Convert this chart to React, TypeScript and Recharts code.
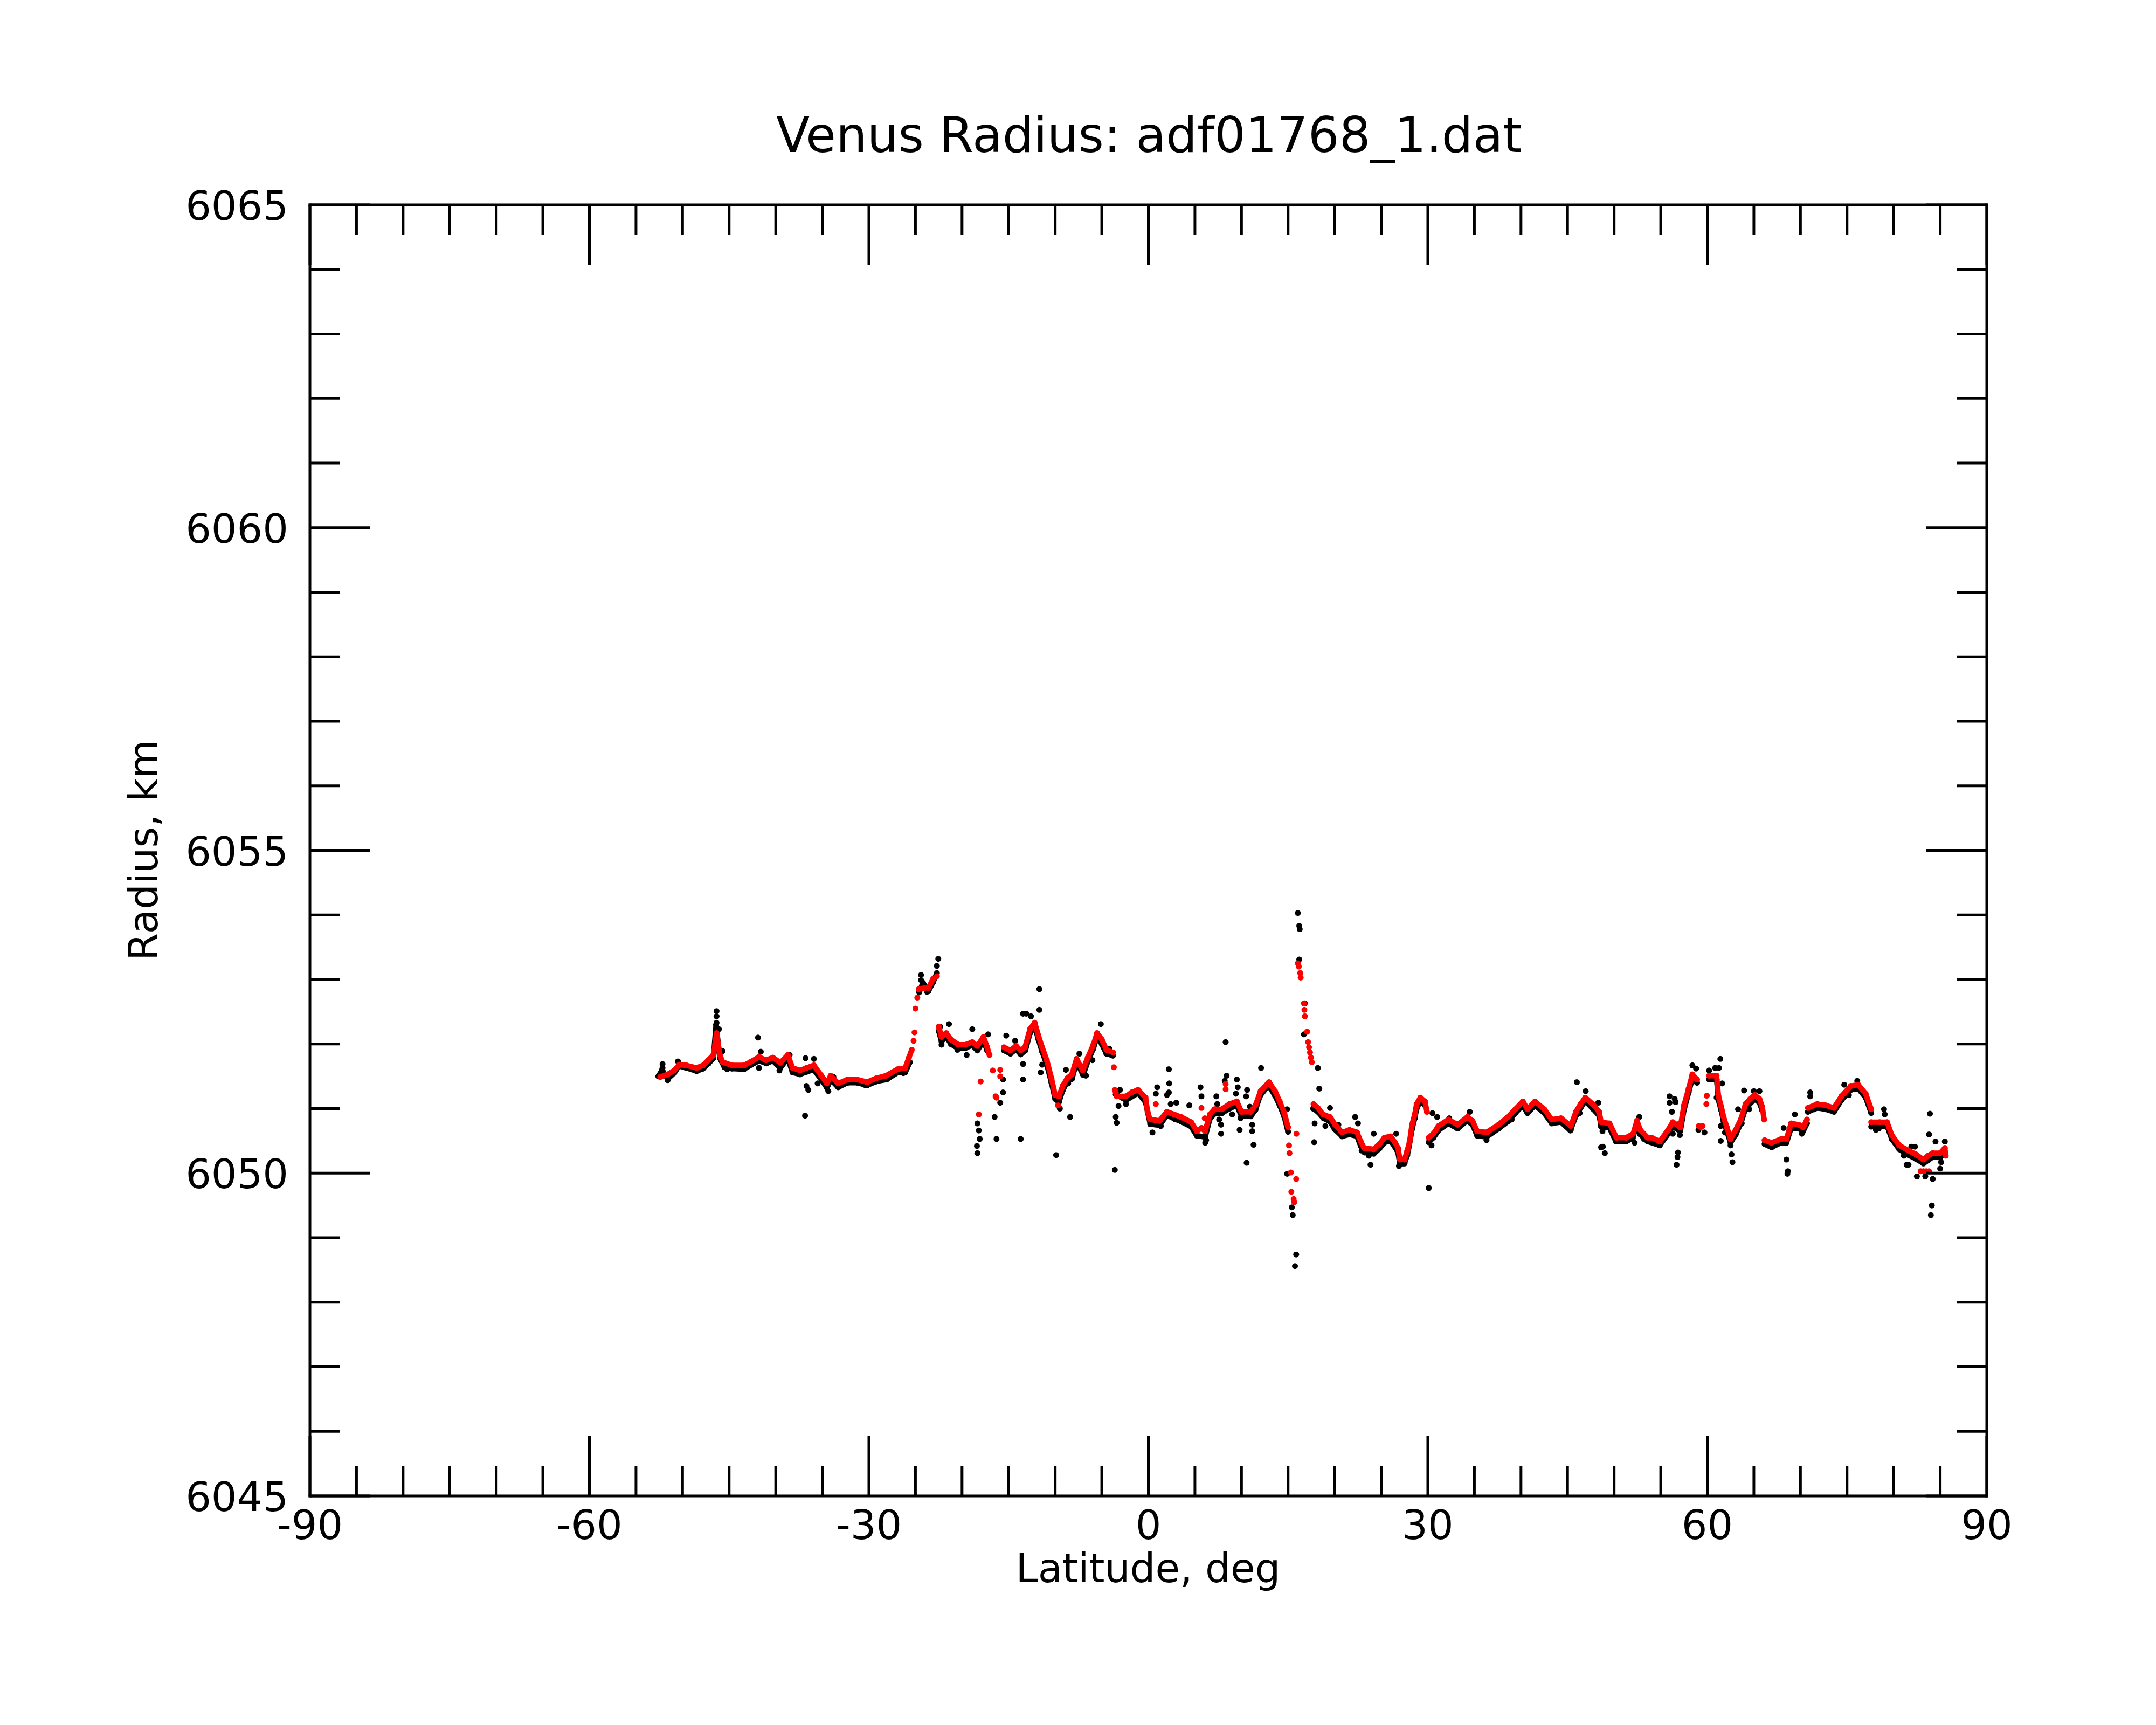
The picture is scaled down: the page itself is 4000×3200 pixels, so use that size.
import { ScatterChart, Scatter, XAxis, YAxis } from 'recharts';

type Pt = [number, number];

// axis ticks
const latTicks = [-90, -85, -80, -75, -70, -65, -60, -55, -50, -45, -40, -35, -30, -25, -20, -15, -10, -5, 0, 5, 10, 15, 20, 25, 30, 35, 40, 45, 50, 55, 60, 65, 70, 75, 80, 85, 90];
const latLabels = [-90, -60, -30, 0, 30, 60, 90];
const radiusTicks = [6045, 6046, 6047, 6048, 6049, 6050, 6051, 6052, 6053, 6054, 6055, 6056, 6057, 6058, 6059, 6060, 6061, 6062, 6063, 6064, 6065];
const radiusLabels = [6045, 6050, 6055, 6060, 6065];

// smoothed radius (red), in runs of adjacent samples
const red1: Pt[] = [[-52.4, 6051.49], [-51.6, 6051.53], [-50.9, 6051.59], [-50.35, 6051.68], [-49.6, 6051.67], [-48.5, 6051.63], [-47.8, 6051.67], [-47.25, 6051.75], [-46.7, 6051.83], [-46.5, 6052.0], [-46.35, 6052.17], [-46.0, 6051.83], [-45.7, 6051.72], [-44.7, 6051.67], [-43.4, 6051.67], [-42.6, 6051.73], [-41.8, 6051.8], [-41.05, 6051.75], [-40.3, 6051.79], [-39.5, 6051.71], [-38.7, 6051.83], [-38.2, 6051.63], [-37.4, 6051.59], [-36.7, 6051.63], [-35.9, 6051.67], [-35.1, 6051.51], [-34.5, 6051.39], [-34.1, 6051.51], [-33.3, 6051.39], [-32.3, 6051.45], [-31.25, 6051.45], [-30.2, 6051.41], [-29.2, 6051.47], [-28.15, 6051.51], [-26.9, 6051.61], [-26.1, 6051.63], [-25.7, 6051.79], [-25.4, 6051.91]];
const red2: Pt[] = [[-24.65, 6052.85], [-24.0, 6052.87], [-23.6, 6052.87], [-23.1, 6053.01], [-22.7, 6053.05]];
const red3: Pt[] = [[-22.5, 6052.27], [-22.2, 6052.11], [-21.7, 6052.17], [-21.2, 6052.07], [-20.4, 6051.99], [-19.6, 6051.99], [-18.9, 6052.03], [-18.35, 6051.97], [-17.7, 6052.11], [-17.3, 6051.95], [-17.05, 6051.83]];
const red4: Pt[] = [[-15.5, 6051.95], [-14.8, 6051.9], [-14.2, 6051.97], [-13.7, 6051.9], [-13.24, 6051.95], [-12.7, 6052.23], [-12.2, 6052.33], [-11.8, 6052.13], [-11.4, 6051.95], [-10.9, 6051.75], [-10.4, 6051.47], [-10.0, 6051.21], [-9.6, 6051.19], [-9.2, 6051.35], [-8.7, 6051.47], [-8.2, 6051.53], [-7.7, 6051.77], [-7.05, 6051.59], [-6.5, 6051.79], [-5.9, 6051.99], [-5.5, 6052.17], [-5.0, 6052.07], [-4.5, 6051.91], [-3.8, 6051.87]];
const red5: Pt[] = [[-3.6, 6051.29], [-3.4, 6051.19], [-2.4, 6051.19], [-1.8, 6051.25], [-1.1, 6051.29], [-0.3, 6051.17], [-0.08, 6050.95], [0.18, 6050.83], [0.7, 6050.82], [1.2, 6050.81], [2.0, 6050.95], [2.76, 6050.91], [3.5, 6050.87], [4.6, 6050.79], [5.2, 6050.65], [5.7, 6050.7], [6.1, 6050.65], [6.6, 6050.91], [7.1, 6050.99], [7.9, 6050.99], [8.7, 6051.07], [9.5, 6051.11], [10.0, 6050.95], [11.0, 6050.95], [11.5, 6051.05], [12.05, 6051.27], [12.95, 6051.41], [13.6, 6051.27], [14.1, 6051.11], [14.6, 6050.93], [15.0, 6050.71]];
const red6: Pt[] = [[17.73, 6051.07], [18.2, 6051.01], [18.76, 6050.91], [19.5, 6050.87], [20.05, 6050.75], [20.8, 6050.63], [21.6, 6050.67], [22.4, 6050.63], [22.8, 6050.49], [23.15, 6050.39], [24.2, 6050.37], [24.8, 6050.45], [25.35, 6050.55], [26.0, 6050.57], [26.5, 6050.47], [26.8, 6050.39], [27.0, 6050.21], [27.5, 6050.21], [27.8, 6050.35], [28.05, 6050.49], [28.3, 6050.75], [28.6, 6050.91], [28.8, 6051.07], [29.2, 6051.17], [29.7, 6051.11], [29.9, 6050.95]];
const red7: Pt[] = [[30.1, 6050.55], [30.6, 6050.61], [31.15, 6050.73], [32.2, 6050.83], [33.2, 6050.75], [34.25, 6050.87], [34.8, 6050.81], [35.3, 6050.65], [36.3, 6050.63], [37.6, 6050.75], [38.6, 6050.87], [39.4, 6050.99], [40.2, 6051.11], [40.7, 6050.99], [41.5, 6051.11], [42.5, 6050.99], [43.3, 6050.83], [44.3, 6050.85], [45.35, 6050.73], [45.9, 6050.95], [46.4, 6051.07], [46.9, 6051.17], [47.7, 6051.07], [48.4, 6050.95], [48.6, 6050.79], [49.5, 6050.77], [50.25, 6050.55], [51.3, 6050.55], [52.05, 6050.61], [52.45, 6050.81], [52.8, 6050.67], [53.6, 6050.55], [54.0, 6050.55], [54.9, 6050.49], [55.8, 6050.67], [56.3, 6050.79], [57.1, 6050.71], [57.5, 6051.05], [58.0, 6051.31], [58.4, 6051.53], [58.9, 6051.45]];
const red8: Pt[] = [[60.2, 6051.51], [61.0, 6051.51], [61.2, 6051.19], [61.5, 6051.03], [61.75, 6050.87], [62.1, 6050.71], [62.5, 6050.53], [63.05, 6050.67], [63.6, 6050.83], [64.1, 6051.07], [64.6, 6051.15], [65.1, 6051.21], [65.6, 6051.15], [65.9, 6051.03], [66.1, 6050.83]];
const red9: Pt[] = [[66.15, 6050.51], [66.9, 6050.47], [67.95, 6050.53], [68.5, 6050.53], [69.0, 6050.77], [69.8, 6050.75], [70.3, 6050.71], [70.7, 6050.83]];
const red10: Pt[] = [[70.8, 6051.01], [71.8, 6051.07], [72.7, 6051.05], [73.6, 6051.01], [74.4, 6051.19], [75.4, 6051.35], [76.2, 6051.37], [77.0, 6051.23], [77.6, 6050.99]];
const red11: Pt[] = [[77.6, 6050.79], [78.5, 6050.79], [79.3, 6050.79], [79.8, 6050.59], [80.6, 6050.43], [81.6, 6050.35], [82.4, 6050.29], [83.2, 6050.21], [83.7, 6050.27], [84.2, 6050.31], [85.0, 6050.31], [85.5, 6050.39], [85.6, 6050.27]];
const redLoose: Pt[] = [[-25.2, 6052.05], [-25.1, 6052.18], [-25.0, 6052.55], [-24.8, 6052.72], [-18.2, 6050.91], [-18.0, 6051.42], [-16.7, 6051.59], [-16.4, 6051.19], [-16.3, 6051.17], [-15.9, 6051.6], [-15.9, 6051.5], [-9.7, 6051.05], [-3.7, 6051.64], [0.8, 6051.07], [5.7, 6051.01], [6.06, 6050.85], [8.3, 6051.3], [8.3, 6051.38], [15.1, 6050.43], [15.15, 6050.31], [15.3, 6050.01], [15.35, 6049.71], [15.6, 6049.6], [15.66, 6049.55], [15.87, 6049.91], [15.9, 6050.61], [16.05, 6053.25], [16.15, 6053.2], [16.3, 6053.1], [16.35, 6053.03], [16.7, 6052.63], [16.75, 6052.53], [16.8, 6052.43], [17.05, 6052.19], [17.15, 6052.03], [17.25, 6051.95], [17.35, 6051.87], [17.45, 6051.79], [17.55, 6051.72], [59.1, 6050.73], [59.3, 6050.71], [59.5, 6050.73], [59.9, 6051.07], [59.95, 6051.2], [82.9, 6050.03], [83.2, 6050.03], [83.5, 6050.03], [83.8, 6050.03]];

// raw radius (black): dense band under the red runs
const black1: Pt[] = [[-52.6, 6051.5], [-52.2, 6051.6], [-51.6, 6051.46], [-50.9, 6051.55], [-50.4, 6051.66], [-49.6, 6051.63], [-48.5, 6051.58], [-47.8, 6051.62], [-47.2, 6051.7], [-46.7, 6051.78], [-46.4, 6052.3], [-46.0, 6051.78], [-45.5, 6051.64], [-44.7, 6051.62], [-43.4, 6051.61], [-42.6, 6051.68], [-41.8, 6051.74], [-41.0, 6051.7], [-40.3, 6051.74], [-39.5, 6051.63], [-38.7, 6051.78], [-38.2, 6051.56], [-37.4, 6051.53], [-36.7, 6051.57], [-35.9, 6051.6], [-35.1, 6051.45], [-34.5, 6051.32], [-34.1, 6051.45], [-33.3, 6051.33], [-32.3, 6051.4], [-31.2, 6051.4], [-30.2, 6051.36], [-29.2, 6051.42], [-28.1, 6051.45], [-26.9, 6051.56], [-26.1, 6051.56], [-25.6, 6051.72]];
const black2: Pt[] = [[-24.6, 6052.8], [-24.2, 6052.95], [-23.6, 6052.82], [-23.1, 6052.96], [-22.7, 6053.1]];
const black3: Pt[] = [[-22.5, 6052.2], [-22.2, 6052.04], [-21.7, 6052.12], [-21.2, 6052.0], [-20.4, 6051.93], [-19.6, 6051.94], [-18.9, 6051.98], [-18.35, 6051.9], [-17.7, 6052.05], [-17.3, 6051.9]];
const black4: Pt[] = [[-15.5, 6051.9], [-14.8, 6051.85], [-14.2, 6051.92], [-13.7, 6051.84], [-13.2, 6051.9], [-12.7, 6052.17], [-12.2, 6052.28], [-11.8, 6052.07], [-11.4, 6051.88], [-10.9, 6051.68], [-10.4, 6051.4], [-10.0, 6051.15], [-9.6, 6051.1], [-9.2, 6051.28], [-8.7, 6051.42], [-8.2, 6051.46], [-7.7, 6051.72], [-7.0, 6051.52], [-6.5, 6051.73], [-5.9, 6051.93], [-5.5, 6052.12], [-5.0, 6052.0], [-4.5, 6051.85], [-3.8, 6051.82]];
const black5: Pt[] = [[-3.5, 6051.22], [-2.4, 6051.13], [-1.1, 6051.24], [-0.3, 6051.1], [0.2, 6050.76], [1.2, 6050.74], [2.0, 6050.9], [2.8, 6050.84], [3.5, 6050.8], [4.6, 6050.72], [5.2, 6050.58], [6.1, 6050.56], [6.6, 6050.84], [7.1, 6050.92], [7.9, 6050.93], [8.7, 6051.0], [9.5, 6051.05], [10.0, 6050.88], [11.0, 6050.88], [11.5, 6050.98], [12.0, 6051.2], [12.9, 6051.36], [13.6, 6051.2], [14.1, 6051.05], [14.6, 6050.87], [15.0, 6050.64]];
const black6: Pt[] = [[17.7, 6051.0], [18.2, 6050.95], [18.8, 6050.85], [19.5, 6050.8], [20.0, 6050.68], [20.8, 6050.57], [21.6, 6050.6], [22.4, 6050.57], [22.8, 6050.42], [23.2, 6050.32], [24.2, 6050.3], [24.8, 6050.38], [25.4, 6050.48], [26.0, 6050.5], [26.5, 6050.4], [26.8, 6050.32], [27.0, 6050.14], [27.5, 6050.15], [27.8, 6050.28], [28.0, 6050.42], [28.3, 6050.68], [28.6, 6050.85], [28.8, 6051.0], [29.2, 6051.12], [29.7, 6051.05]];
const black7: Pt[] = [[30.1, 6050.48], [30.6, 6050.55], [31.2, 6050.67], [32.2, 6050.77], [33.2, 6050.69], [34.2, 6050.81], [34.8, 6050.75], [35.3, 6050.58], [36.3, 6050.56], [37.6, 6050.69], [38.6, 6050.8], [39.4, 6050.93], [40.2, 6051.05], [40.7, 6050.93], [41.5, 6051.05], [42.5, 6050.93], [43.3, 6050.77], [44.3, 6050.79], [45.3, 6050.66], [45.9, 6050.89], [46.4, 6051.01], [46.9, 6051.12], [47.7, 6051.0], [48.4, 6050.89], [48.6, 6050.72], [49.5, 6050.7], [50.2, 6050.49], [51.3, 6050.49], [52.0, 6050.54], [52.4, 6050.75], [52.8, 6050.6], [53.6, 6050.49], [54.9, 6050.43], [55.8, 6050.61], [56.3, 6050.72], [57.1, 6050.65], [57.5, 6050.98], [58.0, 6051.25], [58.4, 6051.47], [58.9, 6051.4]];
const black8: Pt[] = [[60.2, 6051.45], [61.0, 6051.45], [61.2, 6051.13], [61.5, 6050.97], [61.75, 6050.8], [62.1, 6050.65], [62.5, 6050.47], [63.05, 6050.6], [63.6, 6050.77], [64.1, 6051.0], [65.1, 6051.15], [65.6, 6051.09], [65.9, 6050.97]];
const black9: Pt[] = [[66.15, 6050.45], [66.9, 6050.4], [67.9, 6050.47], [68.5, 6050.47], [69.0, 6050.7], [69.8, 6050.69], [70.3, 6050.65], [70.7, 6050.77]];
const black10: Pt[] = [[70.8, 6050.95], [71.8, 6051.01], [72.7, 6050.99], [73.6, 6050.95], [74.4, 6051.13], [75.4, 6051.29], [76.2, 6051.31], [77.0, 6051.17], [77.6, 6050.93]];
const black11: Pt[] = [[77.6, 6050.72], [78.5, 6050.72], [79.3, 6050.73], [79.8, 6050.53], [80.6, 6050.37], [81.6, 6050.28], [82.4, 6050.22], [83.2, 6050.15], [83.7, 6050.2], [84.2, 6050.25], [85.0, 6050.24], [85.5, 6050.33]];

// raw samples that stray from the band
const blackLoose: Pt[] = [
  [-52.15, 6051.69], [-52.15, 6051.63], [-51.6, 6051.44], [-50.5, 6051.73], [-46.35, 6052.51], [-46.35, 6052.43], [-46.35, 6052.33], [-46.1, 6052.23], [-45.7, 6051.89], [-45.2, 6051.61],
  [-41.9, 6052.1], [-41.8, 6051.63], [-41.6, 6051.88], [-39.6, 6051.59], [-38.5, 6051.83], [-36.8, 6051.78], [-36.7, 6051.35], [-36.5, 6051.29], [-36.85, 6050.89], [-35.9, 6051.77],
  [-35.5, 6051.39], [-34.35, 6051.27], [-33.8, 6051.49], [-30.35, 6051.36], [-26.3, 6051.55], [-24.4, 6053.07], [-24.4, 6052.99], [-23.76, 6052.81], [-22.7, 6053.21], [-22.55, 6053.32],
  [-22.35, 6052.27], [-22.2, 6051.99], [-21.4, 6052.31], [-20.5, 6051.91], [-19.5, 6051.83], [-18.9, 6052.23], [-18.35, 6050.77], [-18.2, 6050.66], [-18.1, 6050.53], [-18.4, 6050.42],
  [-18.35, 6050.31], [-17.2, 6052.15], [-16.5, 6050.87], [-16.3, 6050.53], [-15.9, 6051.09], [-15.6, 6051.25], [-15.6, 6051.45], [-15.25, 6052.13], [-14.3, 6052.05], [-13.7, 6050.53],
  [-13.45, 6052.47], [-13.45, 6051.69], [-13.45, 6051.45], [-13.1, 6052.47], [-12.6, 6052.43], [-11.7, 6052.85], [-11.7, 6052.53], [-11.4, 6051.68], [-11.56, 6051.56], [-9.9, 6050.28],
  [-9.5, 6051.0], [-8.4, 6050.87], [-8.85, 6051.6], [-8.6, 6051.39], [-7.4, 6051.85], [-6.7, 6051.51], [-6.0, 6051.75], [-5.1, 6052.31], [-4.2, 6051.93], [-3.5, 6050.87],
  [-3.4, 6050.78], [-3.6, 6050.05], [-3.05, 6051.29], [-3.2, 6051.04], [-2.4, 6051.07], [0.44, 6050.63], [0.8, 6051.23], [0.95, 6051.33], [2.2, 6051.61], [2.24, 6051.39],
  [2.2, 6051.25], [2.0, 6051.21], [2.4, 6051.07], [3.0, 6051.09], [1.34, 6050.73], [4.4, 6051.05], [5.6, 6051.33], [5.7, 6051.19], [6.2, 6050.51], [6.1, 6050.47],
  [7.3, 6051.19], [7.4, 6051.07], [7.6, 6050.83], [7.8, 6050.75], [7.8, 6050.61], [8.3, 6052.03], [8.4, 6051.51], [8.2, 6051.43], [9.5, 6051.45], [9.6, 6051.33],
  [9.4, 6051.23], [9.0, 6050.91], [9.8, 6050.67], [9.9, 6050.85], [10.5, 6051.19], [10.6, 6051.29], [10.9, 6051.03], [11.15, 6050.75], [11.15, 6050.65], [11.3, 6050.44],
  [10.55, 6050.16], [12.1, 6051.63], [14.9, 6050.99], [14.76, 6050.79], [14.9, 6049.99], [15.4, 6049.47], [15.5, 6049.35], [15.87, 6048.74], [15.74, 6048.56], [16.05, 6054.03],
  [16.2, 6053.83], [16.25, 6053.78], [16.2, 6053.31], [16.8, 6052.63], [16.7, 6052.15], [18.2, 6051.63], [18.35, 6051.31], [17.8, 6050.48], [17.85, 6050.77], [19.0, 6050.73],
  [19.5, 6051.01], [20.4, 6050.75], [22.2, 6050.87], [22.5, 6050.77], [23.85, 6050.13], [24.2, 6050.61], [23.66, 6050.27], [26.6, 6050.61], [26.9, 6050.11], [22.9, 6050.35],
  [30.1, 6049.77], [30.4, 6050.43], [31.0, 6050.87], [30.5, 6050.93], [32.3, 6050.85], [34.5, 6050.95], [36.3, 6050.51], [39.0, 6050.83], [40.7, 6050.93], [45.35, 6050.67],
  [46.0, 6051.41], [46.95, 6051.27], [46.3, 6050.93], [48.3, 6051.09], [47.8, 6050.99], [48.75, 6050.65], [48.8, 6050.41], [49.0, 6050.31], [48.6, 6050.4], [52.2, 6050.47],
  [52.7, 6050.87], [53.2, 6050.53], [55.0, 6050.47], [55.95, 6051.19], [55.95, 6051.09], [56.2, 6050.95], [56.5, 6051.15], [56.6, 6051.1], [56.3, 6050.61], [57.06, 6050.77],
  [57.06, 6050.59], [56.85, 6050.32], [56.8, 6050.25], [56.7, 6050.13], [58.4, 6051.67], [58.8, 6051.62], [59.05, 6050.67], [59.7, 6050.63], [60.2, 6051.59], [60.85, 6051.63],
  [61.4, 6051.77], [61.25, 6051.63], [61.6, 6051.39], [61.0, 6051.17], [61.45, 6050.73], [61.45, 6050.5], [61.9, 6050.63], [62.5, 6050.43], [62.6, 6050.29], [62.7, 6050.17],
  [63.3, 6050.99], [63.7, 6050.77], [63.95, 6051.28], [64.5, 6050.99], [65.0, 6051.27], [65.6, 6051.27], [66.8, 6050.43], [68.2, 6050.7], [68.5, 6050.21], [68.65, 6050.03],
  [68.6, 6049.99], [69.4, 6050.91], [70.15, 6050.61], [71.05, 6051.25], [71.05, 6051.19], [71.5, 6050.99], [74.7, 6051.37], [75.2, 6051.21], [76.1, 6051.43], [78.1, 6050.67],
  [78.4, 6050.69], [78.97, 6050.99], [79.05, 6050.91], [81.1, 6050.27], [81.4, 6050.13], [81.6, 6050.13], [81.9, 6050.41], [82.3, 6050.41], [82.5, 6049.95], [83.4, 6049.95],
  [83.9, 6050.92], [83.8, 6050.6], [84.1, 6049.5], [84.0, 6049.35], [84.2, 6049.91], [84.5, 6050.49], [85.5, 6050.49], [85.1, 6050.17], [85.0, 6050.07],
];

const redRuns = [red1, red2, red3, red4, red5, red6, red7, red8, red9, red10, red11];
const blackRuns = [black1, black2, black3, black4, black5, black6, black7, black8, black9, black10, black11];

const toPts = (arr: Pt[]) => arr.map(([x, y]) => ({ x, y }));

const FONT = "'DejaVu Sans', Verdana, sans-serif";
const TICK_FONT = 75;
const MAJOR = 112;
const MINOR = 56;

const dot = (color: string) => (props: any) => (
  <circle cx={props.cx} cy={props.cy} r={5.5} fill={color} />
);

const BottomTick = (props: any) => {
  const { x, y, payload } = props;
  const major = latLabels.includes(payload.value);
  return (
    <g>
      <line x1={x} x2={x} y1={y} y2={y - (major ? MAJOR : MINOR)} stroke="#000" strokeWidth={5} />
      {major && (
        <text x={x} y={y + 80} textAnchor="middle" fontSize={TICK_FONT} fontFamily={FONT} fill="#000">
          {payload.value}
        </text>
      )}
    </g>
  );
};

const TopTick = (props: any) => {
  const { x, y, payload } = props;
  const major = latLabels.includes(payload.value);
  return <line x1={x} x2={x} y1={y} y2={y + (major ? MAJOR : MINOR)} stroke="#000" strokeWidth={5} />;
};

const LeftTick = (props: any) => {
  const { x, y, payload } = props;
  const major = radiusLabels.includes(payload.value);
  return (
    <g>
      <line x1={x} x2={x + (major ? MAJOR : MINOR)} y1={y} y2={y} stroke="#000" strokeWidth={5} />
      {major && (
        <text x={x - 40} y={y + 28} textAnchor="end" fontSize={TICK_FONT} fontFamily={FONT} fill="#000">
          {payload.value}
        </text>
      )}
    </g>
  );
};

const RightTick = (props: any) => {
  const { x, y, payload } = props;
  const major = radiusLabels.includes(payload.value);
  return <line x1={x} x2={x - (major ? MAJOR : MINOR)} y1={y} y2={y} stroke="#000" strokeWidth={5} />;
};

const frame = { stroke: '#000', strokeWidth: 5, strokeLinecap: 'square' as const };
const band = (color: string) => ({ stroke: color, strokeWidth: 10, strokeLinejoin: 'round' as const, strokeLinecap: 'round' as const });

export default function App() {
  return (
    <div style={{ position: 'absolute', left: 0, top: 0, width: 4000, height: 3200, background: '#fff' }}>
      <ScatterChart width={4000} height={3200} margin={{ top: 379, right: 313, bottom: 424, left: 574 }}>
        <XAxis xAxisId="b" type="number" dataKey="x" orientation="bottom" domain={[-90, 90]} ticks={latTicks}
          interval={0} height={1} tickSize={0} tickMargin={0} tickLine={false} axisLine={frame} tick={BottomTick} allowDataOverflow />
        <XAxis xAxisId="t" type="number" dataKey="x" orientation="top" domain={[-90, 90]} ticks={latTicks}
          interval={0} height={1} tickSize={0} tickMargin={0} tickLine={false} axisLine={frame} tick={TopTick} allowDataOverflow />
        <YAxis yAxisId="l" type="number" dataKey="y" orientation="left" domain={[6045, 6065]} ticks={radiusTicks}
          interval={0} width={1} tickSize={0} tickMargin={0} tickLine={false} axisLine={frame} tick={LeftTick} allowDataOverflow />
        <YAxis yAxisId="r" type="number" dataKey="y" orientation="right" domain={[6045, 6065]} ticks={radiusTicks}
          interval={0} width={1} tickSize={0} tickMargin={0} tickLine={false} axisLine={frame} tick={RightTick} allowDataOverflow />
        {blackRuns.map((run, i) => (
          <Scatter key={`b${i}`} xAxisId="b" yAxisId="l" data={toPts(run)} fill="#000"
            line={band('#000')} shape={dot('#000')} isAnimationActive={false} />
        ))}
        <Scatter xAxisId="b" yAxisId="l" data={toPts(blackLoose)} fill="#000" shape={dot('#000')} isAnimationActive={false} />
        {redRuns.map((run, i) => (
          <Scatter key={`r${i}`} xAxisId="b" yAxisId="l" data={toPts(run)} fill="#ff0000"
            line={band('#ff0000')} shape={dot('#ff0000')} isAnimationActive={false} />
        ))}
        <Scatter xAxisId="b" yAxisId="l" data={toPts(redLoose)} fill="#ff0000" shape={dot('#ff0000')} isAnimationActive={false} />
      </ScatterChart>
      <svg width={4000} height={3200} style={{ position: 'absolute', left: 0, top: 0, pointerEvents: 'none' }}>
        <text x={2132} y={282} textAnchor="middle" fontSize={91} fontFamily={FONT} fill="#000">
          Venus Radius: adf01768_1.dat
        </text>
        <text x={2130} y={2935} textAnchor="middle" fontSize={74} fontFamily={FONT} fill="#000">
          Latitude, deg
        </text>
        <text x={292} y={1577} transform="rotate(-90 292 1577)" textAnchor="middle" fontSize={74} fontFamily={FONT} fill="#000">
          Radius, km
        </text>
      </svg>
    </div>
  );
}
